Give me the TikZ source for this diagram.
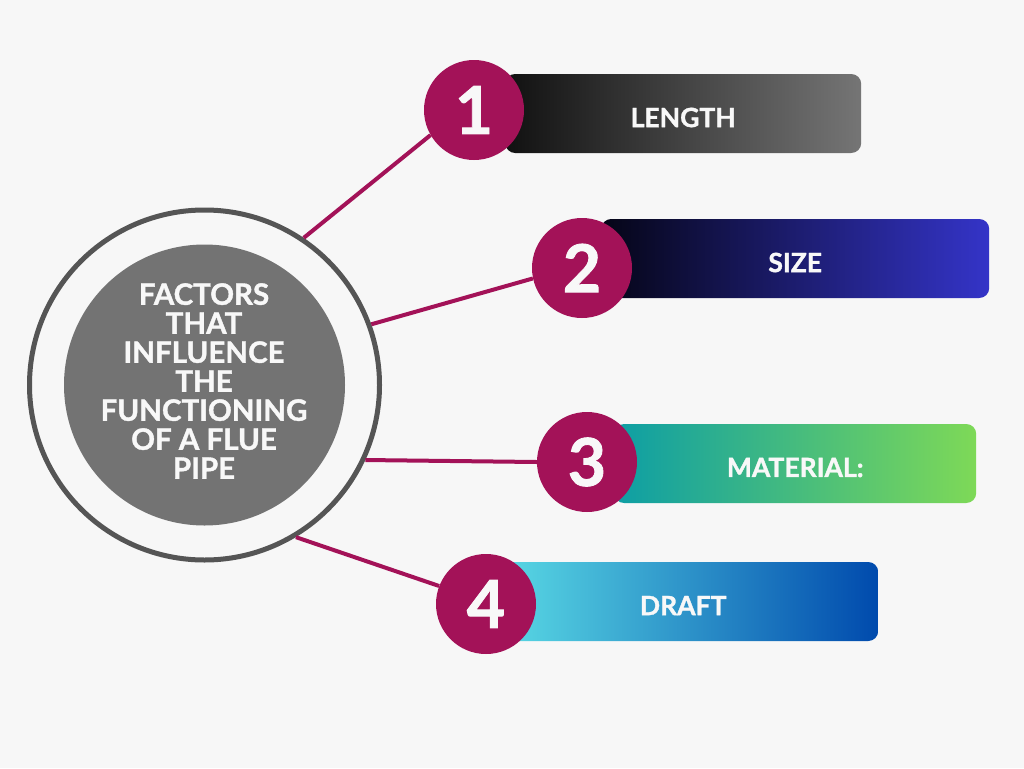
\documentclass[tikz,border=0pt]{standalone}
\usepackage{fontspec}
\setmainfont{Lato}[BoldFeatures={FakeBold=1.3}]
\usepackage{tikz}
\usepackage{xcolor}
\usetikzlibrary{positioning}
\definecolor{fpback}{RGB}{247,247,247}
\definecolor{fpgrey}{RGB}{85,85,85}
\definecolor{fpdisc}{RGB}{115,115,115}
\definecolor{fpmag}{RGB}{163,18,88}
\definecolor{fpwhite}{RGB}{248,248,248}
\definecolor{fpblackA}{RGB}{17,17,17}
\definecolor{fpgreyB}{RGB}{117,117,117}
\definecolor{fpnavyA}{RGB}{5,5,22}
\definecolor{fpnavyB}{RGB}{52,52,200}
\definecolor{fptealA}{RGB}{13,158,165}
\definecolor{fpgreenB}{RGB}{126,217,87}
\definecolor{fpcyanA}{RGB}{92,222,230}
\definecolor{fpblueB}{RGB}{0,74,173}
\tikzset{
  fpring/.style={circle, draw=fpgrey, line width=5pt, minimum size=350pt, inner sep=0pt},
  fpdisk/.style={circle, fill=fpdisc, minimum size=281pt, inner sep=0pt},
  fptitle/.style={text=fpwhite, align=center, font=\fontsize{29.5}{29}\selectfont\bfseries},
  fpnum/.style={circle, fill=fpmag, text=fpwhite, minimum size=100pt, inner sep=0pt, font=\fontsize{66}{66}\selectfont\bfseries},
  fpbar/.style={rectangle, rounded corners=10pt, anchor=west, minimum height=79pt, inner sep=0pt},
  fplabel/.style={text=fpwhite, inner sep=0pt, font=\fontsize{26.5}{30}\selectfont\bfseries},
  fplink/.style={draw=fpmag, line width=4pt}
}

\begin{document}
\begin{tikzpicture}[x=1pt, y=-1pt]
  \fill[fpback] (0,0) rectangle (1024,768);
  \useasboundingbox (0,0) rectangle (1024,768);
  % centre
  \node[fpring] (ring) at (204.5,385) {};
  \node[fpdisk] (disk) at (204.5,385) {};
  \node[fptitle] (title) at (204,381) {FACTORS\\THAT\\INFLUENCE\\THE\\FUNCTIONING\\OF A FLUE\\PIPE};
  % bars
  \node[fpbar, minimum width=356pt, left color=fpblackA, right color=fpgreyB] (bar1) at (505,113.5) {};
  \node[fpbar, minimum width=388pt, left color=fpnavyA, right color=fpnavyB] (bar2) at (601,258.5) {};
  \node[fpbar, minimum width=362pt, left color=fptealA, right color=fpgreenB] (bar3) at (614,463.5) {};
  \node[fpbar, minimum width=390pt, left color=fpcyanA, right color=fpblueB] (bar4) at (488,601.5) {};
  \node[fplabel] (lab1) at ([yshift=-4pt]bar1.center) {LENGTH};
  \node[fplabel] (lab2) at ([yshift=-4pt]bar2.center) {SIZE};
  \node[fplabel] (lab3) at ([yshift=-4pt]bar3.center) {MATERIAL:};
  \node[fplabel] (lab4) at ([yshift=-4pt]bar4.center) {DRAFT};
  % numbers
  \node[fpnum] (num1) at (474,110) {1};
  \node[fpnum] (num2) at (582,268) {2};
  \node[fpnum] (num3) at (587,462) {3};
  \node[fpnum] (num4) at (486,604) {4};
  % links
  \draw[fplink] (ring.56) -- (num1.210);
  \draw[fplink] (ring.20) -- (num2.192);
  \draw[fplink] (ring.-25.25) -- (num3.180);
  \draw[fplink] (ring.-59) -- (num4.159);
\end{tikzpicture}
\end{document}
